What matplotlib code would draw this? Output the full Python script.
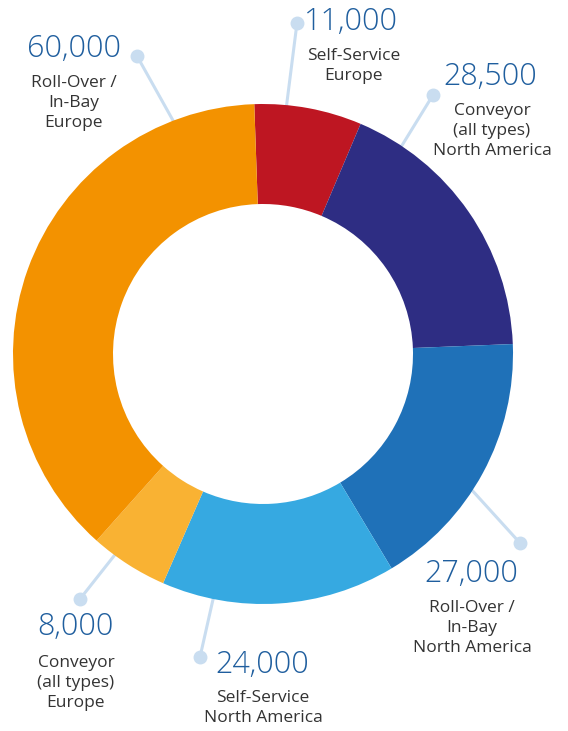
import matplotlib
matplotlib.use("Agg")
import matplotlib.pyplot as plt
import numpy as np

# Data (clockwise from top)
categories = ["Self-Service\nEurope", "Conveyor\n(all types)\nNorth America",
              "Roll-Over /\nIn-Bay\nNorth America", "Self-Service\nNorth America",
              "Conveyor\n(all types)\nEurope", "Roll-Over /\nIn-Bay\nEurope"]
values = [11000, 28500, 27000, 24000, 8000, 60000]
value_labels = ["11,000", "28,500", "27,000", "24,000", "8,000", "60,000"]
colors = ["#BE1622", "#2E2D83", "#1F71B8", "#36A9E1", "#F9B233", "#F39200"]

# Layout (pixel coordinates from top-left of annotation elements)
W, H = 568, 731
cx, cy, R, r_in = 263, 354, 250, 150
line_angles = [84.6, 56.3, -33.0, 258.5, 233.6, 111.0]
dots = [(297, 23), (433, 95), (520, 543), (200, 657), (80, 599), (137, 56)]
num_pos = [(351, 22), (490, 77), (471, 574), (262, 665), (75, 627), (74, 49)]
lab_pos = [(354, 48), (492, 103), (472, 600), (263, 690), (76, 655), (74, 75)]

def Y(py):
    return H - py

plt.rcParams['font.family'] = ['Open Sans', 'DejaVu Sans']
fig = plt.figure(figsize=(W / 100, H / 100), dpi=100)
ax = fig.add_axes([0, 0, 1, 1])

wedges, _ = ax.pie(values, colors=colors, startangle=92, counterclock=False,
                   center=(cx, Y(cy)), radius=R,
                   wedgeprops=dict(width=R - r_in, edgecolor='none', linewidth=0))
ax.set_xlim(0, W)
ax.set_ylim(0, H)
ax.set_aspect('equal')
ax.axis('off')

line_col = "#C9DDF0"
for ang, (dx, dy) in zip(line_angles, dots):
    ex = cx + (R - 2) * np.cos(np.radians(ang))
    ey = Y(cy) + (R - 2) * np.sin(np.radians(ang))
    ax.plot([ex, dx], [ey, Y(dy)], color=line_col, lw=2.2, zorder=0,
            solid_capstyle='round')
    ax.plot([dx], [Y(dy)], 'o', color=line_col, ms=9, zorder=0)

for (nx, ny), txt in zip(num_pos, value_labels):
    ax.text(nx, Y(ny), txt, ha='center', va='center', fontsize=22,
            color="#1F5E9E", fontweight='light')
for (lx, ly), txt in zip(lab_pos, categories):
    ax.text(lx, Y(ly), txt, ha='center', va='top', fontsize=12.5,
            color="#333333", linespacing=1.32)

fig.savefig("out.png", dpi=100)
